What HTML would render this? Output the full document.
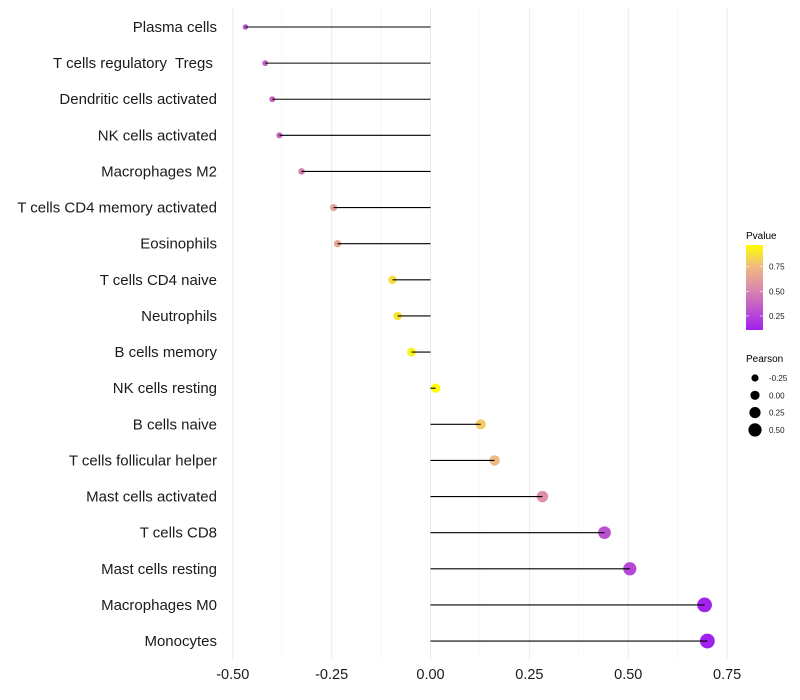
<!DOCTYPE html>
<html><head><meta charset="utf-8"><style>
html,body{margin:0;padding:0;background:#fff;}
svg{display:block;font-family:"Liberation Sans",Arial,sans-serif;}
#ylabels text{white-space:pre;}
</style></head><body>
<svg id="chart" width="800" height="700" viewBox="0 0 800 700" xmlns="http://www.w3.org/2000/svg">
<defs>
<linearGradient id="pgrad" x1="0" y1="1" x2="0" y2="0">
<stop offset="0" stop-color="#A020F0"/>
<stop offset="0.45" stop-color="#D882B0"/>
<stop offset="0.75" stop-color="#F0BC80"/>
<stop offset="1" stop-color="#FFFF00"/>
</linearGradient>
</defs>
<g id="grid"></g>
<g id="marks"></g>
<g id="ylabels"></g>
<g id="xlabels"></g>
<g>
<text x="746" y="239" font-size="10" fill="#000">Pvalue</text>
<rect x="746" y="245" width="17" height="85" fill="url(#pgrad)"/>
<g id="cbticks"></g>
</g>
<g id="sizeLegend">
<text x="746" y="362" font-size="10" fill="#000">Pearson</text>
</g>
</svg>
<script>
const categories = ["Plasma cells","T cells regulatory  Tregs ","Dendritic cells activated","NK cells activated","Macrophages M2","T cells CD4 memory activated","Eosinophils","T cells CD4 naive","Neutrophils","B cells memory","NK cells resting","B cells naive","T cells follicular helper","Mast cells activated","T cells CD8","Mast cells resting","Macrophages M0","Monocytes"];
const pearson = [-0.468,-0.418,-0.400,-0.382,-0.326,-0.245,-0.235,-0.096,-0.083,-0.048,0.013,0.127,0.162,0.283,0.440,0.504,0.693,0.700];
const pvalues = [0.30,0.35,0.38,0.38,0.48,0.65,0.65,0.86,0.88,0.93,0.97,0.80,0.74,0.56,0.30,0.26,0.12,0.11];
const xTicks = [-0.5,-0.25,0,0.25,0.5,0.75];
const xTickLabels = ["-0.50","-0.25","0.00","0.25","0.50","0.75"];
const pTicks = [0.25,0.5,0.75];
const pTickLabels = ["0.25","0.50","0.75"];
const sizeBreaks = [-0.25,0,0.25,0.5];
const sizeLabels = ["-0.25","0.00","0.25","0.50"];

const NS="http://www.w3.org/2000/svg";
function mk(tag,attrs,parent){const e=document.createElementNS(NS,tag);for(const k in attrs)e.setAttribute(k,attrs[k]);parent.appendChild(e);return e;}
const x0=430.5, xs=395.5;
function xScale(v){return x0+v*xs;}
function yScale(i){return 27+i*36.12;}
const pMin=0.107,pMax=0.97;
function pScale(p){return 330-(p-pMin)/(pMax-pMin)*85;}
function rScale(v){return Math.max(2,4.6+4*v);}
function lerp(a,b,t){return a+(b-a)*t;}
const stops=[[0,[160,32,240]],[0.45,[216,130,176]],[0.75,[240,188,128]],[1,[255,255,0]]];
function color(p){let t=(p-pMin)/(pMax-pMin);t=Math.max(0,Math.min(1,t));
for(let i=0;i<stops.length-1;i++){const a=stops[i],b=stops[i+1];if(t<=b[0]){const u=(t-a[0])/(b[0]-a[0]);return "rgb("+a[1].map((c,j)=>Math.round(lerp(c,b[1][j],u))).join(",")+")";}}
return "rgb(255,255,0)";}

const grid=document.getElementById('grid');
for(let v=-0.5;v<=0.751;v+=0.125){
 const major=Math.abs((v*4)-Math.round(v*4))<1e-6;
 const l=mk('line',{x1:xScale(v),x2:xScale(v),y1:8,y2:660,stroke:major?'#ebebeb':'#f4f4f4','stroke-width':major?1:0.7},grid);
 
 
}
const marks=document.getElementById('marks'), yl=document.getElementById('ylabels');
categories.forEach((c,i)=>{
 const y=yScale(i), x=xScale(pearson[i]);
 const pt=mk('circle',{cx:x,cy:y,r:rScale(pearson[i]),fill:color(pvalues[i])},marks);
 
 
 const ln=mk('line',{x1:x0,x2:x,y1:y,y2:y,stroke:'#000','stroke-width':1.1},marks);
 
 
 const t=mk('text',{x:217,y:y+5,'text-anchor':'end','font-size':15,fill:'#1a1a1a'},yl);
 t.textContent=c;
 
 
});
const xl=document.getElementById('xlabels');
xTicks.forEach((v,i)=>{
 const t=mk('text',{x:xScale(v),y:679,'text-anchor':'middle','font-size':14.5,fill:'#1a1a1a'},xl);
 t.textContent=xTickLabels[i];
 
 
});
const cb=document.getElementById('cbticks');
pTicks.forEach((p,i)=>{
 const y=pScale(p);
 mk('line',{x1:746,x2:749,y1:y,y2:y,stroke:'#fff','stroke-width':0.6},cb);
 mk('line',{x1:760,x2:763,y1:y,y2:y,stroke:'#fff','stroke-width':0.6},cb);
 const t=mk('text',{x:769,y:y+3,'font-size':8,fill:'#1a1a1a'},cb);
 t.textContent=pTickLabels[i];
 
 
});
const sl=document.getElementById('sizeLegend');
sizeBreaks.forEach((v,i)=>{
 const y=378+i*17.3;
 const c=mk('circle',{cx:755,cy:y,r:rScale(v),fill:'#000'},sl);
 
 
 const t=mk('text',{x:769,y:y+3,'font-size':8,fill:'#1a1a1a'},sl);
 t.textContent=sizeLabels[i];
 
 
});
</script>
</body></html>
